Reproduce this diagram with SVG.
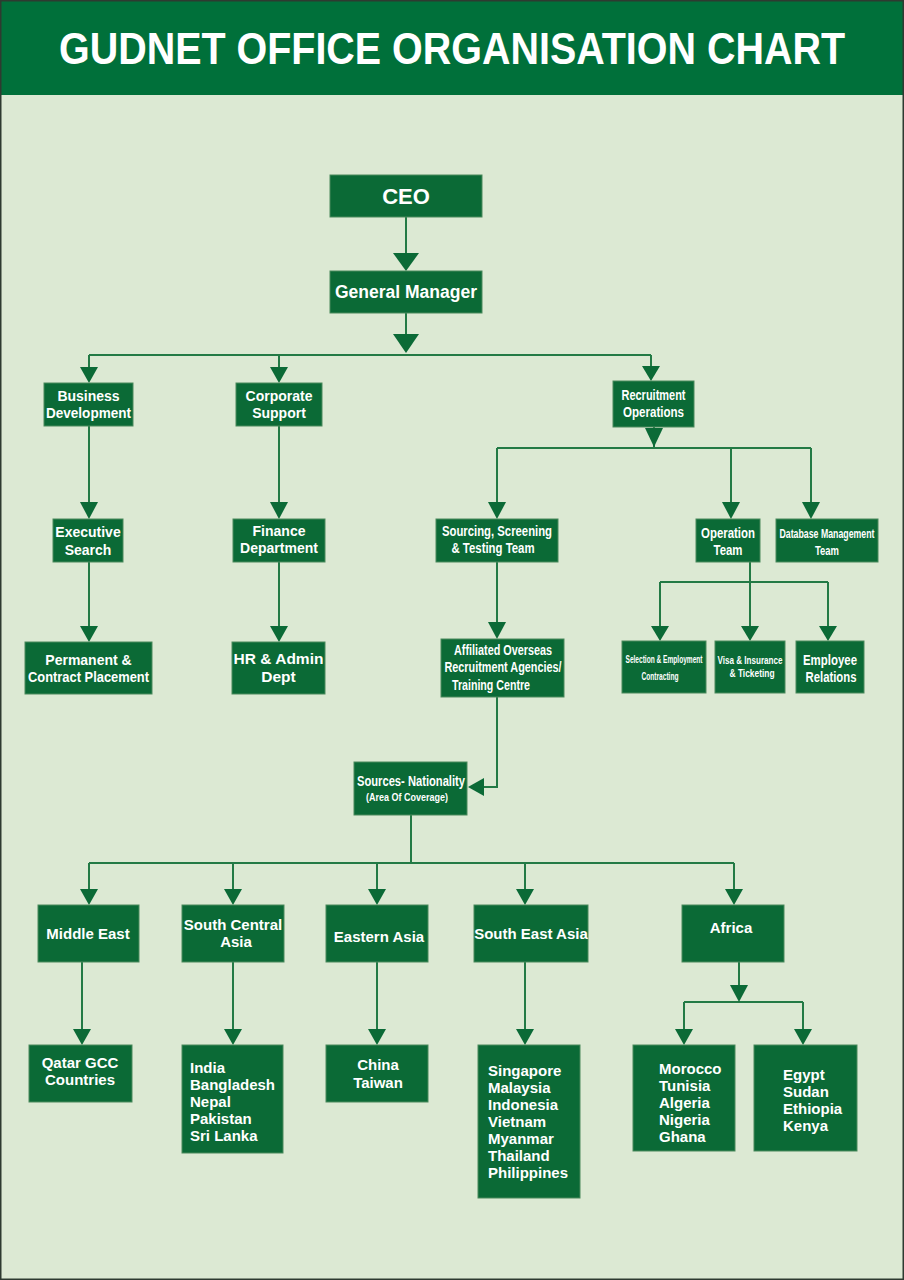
<svg xmlns="http://www.w3.org/2000/svg" width="904" height="1280" viewBox="0 0 904 1280">
<style>
.box{fill:#0b6a36;stroke:#4a8a5c;stroke-width:1}
.t{font-family:"Liberation Sans",Arial,sans-serif;font-weight:bold;fill:#ffffff;text-anchor:middle}
.l{text-anchor:start}
.ln{fill:none;stroke:#237a45;stroke-width:2}
.ah{fill:#0b6a36}
</style>
<rect x="0" y="0" width="904" height="1280" fill="#dce9d3"/>
<rect x="0" y="0" width="904" height="95" fill="#00703a"/>
<rect x="0.75" y="0.75" width="902.5" height="1278.5" fill="none" stroke="#2e3a30" stroke-width="1.5"/>
<text class="t" x="452" y="64" font-size="44" textLength="786" lengthAdjust="spacingAndGlyphs">GUDNET OFFICE ORGANISATION CHART</text>

<g id="connectors">
<path class="ln" d="M406 217V255M406 313V336M89 355H651M89 355V369M279 355V369M651 355V368"/>
<path class="ln" d="M89 426V504M279 426V504M89 562V628M279 562V628"/>
<path class="ln" d="M654 427V448M497 448H811M497 448V504M731 448V504M811 448V504"/>
<path class="ln" d="M497 562V624M750 562V628M660 582H828M660 582V628M828 582V628"/>
<path class="ln" d="M497 697V787H482M411 815V863M89 863H734M89 863V891M233 863V891M377 863V891M525 863V891M734 863V891"/>
<path class="ln" d="M82 962V1030M233 962V1030M377 962V1030M525 962V1030M739 962V987M684 1002H803M684 1002V1030M803 1002V1030"/>
<g class="ah">
<polygon points="393,253 419,253 406,271"/>
<polygon points="393,334 419,334 406,353"/>
<polygon points="80,367 98,367 89,383"/>
<polygon points="270,367 288,367 279,383"/>
<polygon points="642,366 660,366 651,381"/>
<polygon points="80,502 98,502 89,519"/>
<polygon points="270,502 288,502 279,519"/>
<polygon points="80,626 98,626 89,642"/>
<polygon points="270,626 288,626 279,642"/>
<polygon points="645,428 663,428 654,447"/>
<polygon points="488,502 506,502 497,519"/>
<polygon points="722,502 740,502 731,519"/>
<polygon points="802,502 820,502 811,519"/>
<polygon points="488,622 506,622 497,639"/>
<polygon points="651,626 669,626 660,641"/>
<polygon points="741,626 759,626 750,641"/>
<polygon points="819,626 837,626 828,641"/>
<polygon points="484,778 484,796 468,787"/>
<polygon points="80,889 98,889 89,905"/>
<polygon points="224,889 242,889 233,905"/>
<polygon points="368,889 386,889 377,905"/>
<polygon points="516,889 534,889 525,905"/>
<polygon points="725,889 743,889 734,905"/>
<polygon points="73,1029 91,1029 82,1045"/>
<polygon points="224,1029 242,1029 233,1045"/>
<polygon points="368,1029 386,1029 377,1045"/>
<polygon points="516,1029 534,1029 525,1045"/>
<polygon points="730,985 748,985 739,1002"/>
<polygon points="675,1029 693,1029 684,1045"/>
<polygon points="794,1029 812,1029 803,1045"/>
</g>
</g>

<g id="ceo"><rect class="box" x="330" y="175" width="152" height="42"/><text class="t" x="406" y="204" font-size="22">CEO</text></g>
<g id="gm"><rect class="box" x="330" y="271" width="152" height="42"/><text class="t" x="406" y="298" font-size="17.5">General Manager</text></g>

<g id="business-development"><rect class="box" x="44" y="383" width="89" height="43"/><text class="t" x="88.5" y="401" font-size="14">Business</text><text class="t" x="88.5" y="418" font-size="14" textLength="85" lengthAdjust="spacingAndGlyphs">Development</text></g>
<g id="corporate-support"><rect class="box" x="236" y="383" width="86" height="43"/><text class="t" x="279" y="401" font-size="14">Corporate</text><text class="t" x="279" y="418" font-size="14">Support</text></g>
<g id="recruitment-operations"><rect class="box" x="613" y="381" width="81" height="46"/><text class="t" x="653.5" y="400" font-size="14" textLength="64" lengthAdjust="spacingAndGlyphs">Recruitment</text><text class="t" x="653.5" y="417" font-size="14" textLength="61" lengthAdjust="spacingAndGlyphs">Operations</text></g>

<g id="executive-search"><rect class="box" x="53" y="519" width="70" height="43"/><text class="t" x="88" y="537" font-size="14">Executive</text><text class="t" x="88" y="555" font-size="14">Search</text></g>
<g id="finance-department"><rect class="box" x="233" y="519" width="92" height="43"/><text class="t" x="279" y="536" font-size="14">Finance</text><text class="t" x="279" y="553" font-size="14">Department</text></g>
<g id="sourcing"><rect class="box" x="436" y="519" width="122" height="43"/><text class="t" x="497" y="536" font-size="14" textLength="110" lengthAdjust="spacingAndGlyphs">Sourcing, Screening</text><text class="t" x="493" y="553" font-size="14" textLength="83" lengthAdjust="spacingAndGlyphs">&amp; Testing Team</text></g>
<g id="operation-team"><rect class="box" x="696" y="519" width="64" height="43"/><text class="t" x="728" y="538" font-size="14" textLength="54" lengthAdjust="spacingAndGlyphs">Operation</text><text class="t" x="728" y="555" font-size="14" textLength="29" lengthAdjust="spacingAndGlyphs">Team</text></g>
<g id="database-management"><rect class="box" x="776" y="519" width="102" height="43"/><text class="t" x="827" y="538" font-size="13" textLength="95" lengthAdjust="spacingAndGlyphs">Database Management</text><text class="t" x="827" y="555" font-size="13" textLength="24" lengthAdjust="spacingAndGlyphs">Team</text></g>

<g id="permanent-contract"><rect class="box" x="25" y="642" width="127" height="52"/><text class="t" x="88.5" y="665" font-size="14">Permanent &amp;</text><text class="t" x="88.5" y="682" font-size="14" textLength="121" lengthAdjust="spacingAndGlyphs">Contract Placement</text></g>
<g id="hr-admin"><rect class="box" x="232" y="642" width="93" height="52"/><text class="t" x="278.5" y="664" font-size="15.5">HR &amp; Admin</text><text class="t" x="278.5" y="682" font-size="15.5">Dept</text></g>
<g id="affiliated"><rect class="box" x="441" y="639" width="123" height="58"/><text class="t" x="503" y="655" font-size="14" textLength="98" lengthAdjust="spacingAndGlyphs">Affiliated Overseas</text><text class="t" x="503" y="672" font-size="14" textLength="117" lengthAdjust="spacingAndGlyphs">Recruitment Agencies/</text><text class="t l" x="452" y="690" font-size="14" textLength="78" lengthAdjust="spacingAndGlyphs">Training Centre</text></g>

<g id="selection-employment"><rect class="box" x="622" y="641" width="84" height="52"/><text class="t" x="664" y="663" font-size="11" textLength="77" lengthAdjust="spacingAndGlyphs">Selection &amp; Employment</text><text class="t" x="660" y="680" font-size="11" textLength="37" lengthAdjust="spacingAndGlyphs">Contracting</text></g>
<g id="visa-insurance"><rect class="box" x="715" y="641" width="70" height="52"/><text class="t" x="750" y="664" font-size="11" textLength="65" lengthAdjust="spacingAndGlyphs">Visa &amp; Insurance</text><text class="t" x="752" y="677" font-size="11" textLength="45" lengthAdjust="spacingAndGlyphs">&amp; Ticketing</text></g>
<g id="employee-relations"><rect class="box" x="796" y="641" width="68" height="52"/><text class="t" x="830" y="665" font-size="14" textLength="54" lengthAdjust="spacingAndGlyphs">Employee</text><text class="t" x="831" y="682" font-size="14" textLength="51" lengthAdjust="spacingAndGlyphs">Relations</text></g>

<g id="sources-nationality"><rect class="box" x="354" y="762" width="113" height="53"/><text class="t" x="411" y="786" font-size="14" textLength="108" lengthAdjust="spacingAndGlyphs">Sources- Nationality</text><text class="t" x="407" y="801" font-size="11" textLength="82" lengthAdjust="spacingAndGlyphs">(Area Of Coverage)</text></g>

<g id="middle-east"><rect class="box" x="38" y="905" width="101" height="57"/><text class="t" x="88" y="939" font-size="15">Middle East</text></g>
<g id="south-central-asia"><rect class="box" x="182" y="905" width="102" height="57"/><text class="t" x="233" y="930" font-size="15">South Central</text><text class="t" x="236" y="947" font-size="15">Asia</text></g>
<g id="eastern-asia"><rect class="box" x="326" y="905" width="102" height="57"/><text class="t" x="379" y="942" font-size="15">Eastern Asia</text></g>
<g id="south-east-asia"><rect class="box" x="474" y="905" width="114" height="57"/><text class="t" x="531" y="939" font-size="15">South East Asia</text></g>
<g id="africa"><rect class="box" x="682" y="905" width="102" height="57"/><text class="t" x="731" y="933" font-size="15">Africa</text></g>

<g id="qatar-gcc"><rect class="box" x="29" y="1045" width="103" height="57"/><text class="t" x="80" y="1068" font-size="15">Qatar GCC</text><text class="t" x="80" y="1085" font-size="15">Countries</text></g>
<g id="south-central-countries"><rect class="box" x="182" y="1045" width="101" height="108"/><text class="t l" x="190" y="1073" font-size="15">India</text><text class="t l" x="190" y="1090" font-size="15">Bangladesh</text><text class="t l" x="190" y="1107" font-size="15">Nepal</text><text class="t l" x="190" y="1124" font-size="15">Pakistan</text><text class="t l" x="190" y="1141" font-size="15">Sri Lanka</text></g>
<g id="eastern-asia-countries"><rect class="box" x="326" y="1045" width="102" height="57"/><text class="t" x="378" y="1070" font-size="15">China</text><text class="t" x="378" y="1088" font-size="15">Taiwan</text></g>
<g id="south-east-asia-countries"><rect class="box" x="478" y="1045" width="102" height="153"/><text class="t l" x="488" y="1076" font-size="15">Singapore</text><text class="t l" x="488" y="1093" font-size="15">Malaysia</text><text class="t l" x="488" y="1110" font-size="15">Indonesia</text><text class="t l" x="488" y="1127" font-size="15">Vietnam</text><text class="t l" x="488" y="1144" font-size="15">Myanmar</text><text class="t l" x="488" y="1161" font-size="15">Thailand</text><text class="t l" x="488" y="1178" font-size="15">Philippines</text></g>
<g id="north-west-africa"><rect class="box" x="633" y="1045" width="102" height="106"/><text class="t l" x="659" y="1074" font-size="15">Morocco</text><text class="t l" x="659" y="1091" font-size="15">Tunisia</text><text class="t l" x="659" y="1108" font-size="15">Algeria</text><text class="t l" x="659" y="1125" font-size="15">Nigeria</text><text class="t l" x="659" y="1142" font-size="15">Ghana</text></g>
<g id="east-africa"><rect class="box" x="754" y="1045" width="103" height="106"/><text class="t l" x="783" y="1080" font-size="15">Egypt</text><text class="t l" x="783" y="1097" font-size="15">Sudan</text><text class="t l" x="783" y="1114" font-size="15">Ethiopia</text><text class="t l" x="783" y="1131" font-size="15">Kenya</text></g>
</svg>
